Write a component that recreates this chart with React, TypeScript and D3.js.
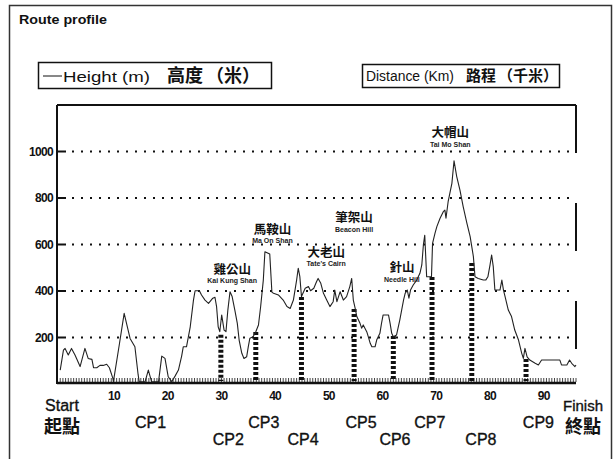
import React from "react";
import * as d3 from "d3";

const distanceKm = [
  0, 0.6, 0.9, 1.5, 2.1, 2.75, 3.7, 4.6, 5.2, 5.9, 6.2, 6.8, 7.4, 8.0, 8.65, 9.15, 9.8, 9.9,
  11.0, 11.9, 13.0, 13.9, 14.5, 14.7, 15.8, 16.4, 17.0, 18.3, 18.9, 19.5, 20.1, 20.75, 21.4,
  22.0, 22.6, 22.9, 23.5, 24.2, 24.8, 25.1, 25.9, 26.3, 26.95, 27.6, 28.4, 28.8, 29.1, 29.4,
  29.7, 30.05, 30.5, 30.85, 31.2, 31.6, 32.0, 32.5, 32.96, 33.3, 33.8, 34.2, 34.7, 35.0, 35.3,
  35.9, 36.4, 36.9, 37.3, 37.8, 38.1, 38.5, 39.0, 39.4, 39.7, 40.6, 41.5, 42.2, 42.8, 43.4,
  44.0, 44.3, 44.6, 44.9, 45.6, 46.2, 46.6, 47.2, 47.7, 48.0, 48.5, 49.0, 49.6, 50.2, 50.8,
  51.1, 51.5, 52.1, 52.7, 53.3, 53.9, 54.25, 54.55, 54.9, 55.2, 55.8, 56.1, 56.4, 57.05, 57.35,
  57.7, 58.0, 58.6, 58.9, 59.5, 59.8, 60.1, 61.1, 61.4, 61.7, 62.0, 62.6, 63.2, 63.9, 64.2,
  64.6, 64.9, 65.2, 65.7, 66.35, 66.95, 67.3, 67.6, 67.85, 68.2, 69.1, 69.3, 69.75, 70.1, 70.7,
  71.3, 71.6, 71.8, 72.2, 72.9, 73.3, 73.8, 74.4, 75.0, 75.7, 76.3, 76.6, 76.9, 77.2, 77.8,
  78.75, 79.2, 79.6, 80.0, 80.3, 80.6, 80.9, 81.85, 82.2, 82.5, 82.8, 83.4, 84.0, 84.6, 85.3,
  85.9, 86.2, 86.5, 86.9, 87.4, 88.4, 89.0, 89.6, 93.0, 93.3, 94.3, 94.8, 95.2, 95.8, 96.0,
];
const heightM = [
  60, 146, 153, 125, 153, 125, 75, 153, 110, 106, 70, 70, 80, 80, 85, 70, 24, 10,
  170, 304, 196, 160, 40, 10, 10, 60, 10, 10, 120, 110, 31, 10, 35,
  60, 120, 160, 160, 246, 361, 401, 401, 383, 361, 347, 369, 373, 333, 246,
  225, 297, 232, 225, 318, 397, 376, 318, 261, 189, 132, 110, 117, 160, 197,
  203, 225, 254, 332, 447, 569, 565, 559, 395, 390, 383, 361, 333, 325, 361,
  447, 498, 462, 376, 412, 419, 401, 412, 440, 454, 433, 390, 361, 333, 354,
  404, 354, 397, 361, 376, 419, 454, 361, 325, 290, 261, 240, 254, 225, 203,
  175, 160, 160, 189, 218, 261, 297, 297, 261, 218, 203, 211, 275, 361, 390,
  404, 369, 404, 426, 447, 476, 512, 600, 640, 461, 461, 605, 648, 677, 713,
  741, 748, 713, 784, 863, 960, 892, 834, 763, 691, 634, 591, 548, 461, 454,
  447, 447, 461, 512, 555, 505, 404, 404, 447, 404, 376, 318, 290, 232, 189,
  132, 110, 153, 117, 103, 89, 82, 103, 103, 82, 82, 103, 89, 75, 82,
];

const checkpointKm = [29.9, 36.4, 44.9, 54.7, 62.0, 69.2, 76.6, 86.7];
const checkpointHeight = [212, 224, 374, 323, 206, 460, 520, 108];

const cpLabels = ["CP1", "CP2", "CP3", "CP4", "CP5", "CP6", "CP7", "CP8", "CP9"];
const cpLabelKm = [16.8, 31.3, 37.9, 45.2, 56.0, 62.3, 68.8, 78.3, 89.0];
const cpLabelRow = [0, 1, 0, 1, 0, 1, 0, 1, 0];

const yTicks = [200, 400, 600, 800, 1000];
const xTicks = [10, 20, 30, 40, 50, 60, 70, 80, 90];

const peakZh = ["雞公山", "馬鞍山", "大老山", "筆架山", "針山", "大帽山"];
const peakEn = ["Kai Kung Shan", "Ma On Shan", "Tate's Cairn", "Beacon Hill", "Needle Hill", "Tai Mo Shan"];
const peakKm = [32.0, 39.5, 49.5, 54.7, 63.6, 72.6];
const peakH = [469, 641, 542, 692, 477, 1058];

const W = 615;
const H = 459;
const PL = 57;
const PR = 576;
const PT = 105;
const PB = 384;

const SANS = "'Liberation Sans', Arial, Helvetica, sans-serif";
const CJK = "'Noto Sans CJK TC', 'Noto Sans CJK SC', sans-serif";

export default function App() {
  const x = d3.scaleLinear().domain([-0.6, 96]).range([PL, PR]);
  const y = d3.scaleLinear().domain([0, 1200]).range([PB, PT]);
  const pts: [number, number][] = distanceKm.map((d, i) => [d, heightM[i]]);
  const line = d3
    .line<[number, number]>()
    .x((d) => x(d[0]))
    .y((d) => y(d[1]));
  const minor = d3.range(0, 96.01, 0.5);

  return (
    <svg
      width={W}
      height={H}
      style={{ position: "absolute", left: 0, top: 0, background: "#fff" }}
      fontFamily={SANS}
    >
      <rect x={0} y={0} width={W} height={H} fill="#fff" />
      <rect x={9.5} y={5.5} width={602} height={470} fill="none" stroke="#333" strokeWidth={1.5} />
      <text x={19} y={24} fontSize={12.5} fontWeight="bold" fill="#111" textLength={88} lengthAdjust="spacingAndGlyphs">
        Route profile
      </text>

      {/* legends */}
      <rect x={38.5} y={62.5} width={233} height={26} fill="none" stroke="#111" strokeWidth={1.5} />
      <line x1={43} x2={62} y1={76} y2={76} stroke="#111" strokeWidth={1} />
      <text x={63} y={82} fontSize={15} fill="#111" textLength={87} lengthAdjust="spacingAndGlyphs">
        Height (m)
      </text>
      <text x={167} y={82} fontSize={18} fontWeight="bold" fontFamily={CJK} fill="#111">
        高度
      </text>
      <text x={206} y={82} fontSize={18} fontWeight="bold" fontFamily={CJK} fill="#111">
        （米）
      </text>

      <rect x={362.5} y={64.5} width={197} height={23} fill="none" stroke="#111" strokeWidth={1.5} />
      <text x={366} y={81} fontSize={14} fill="#111" textLength={88} lengthAdjust="spacingAndGlyphs">
        Distance (Km)
      </text>
      <text x={466} y={81} fontSize={15} fontWeight="bold" fontFamily={CJK} fill="#111">
        路程
      </text>
      <text x={498} y={81} fontSize={15} fontWeight="bold" fontFamily={CJK} fill="#111">
        （千米）
      </text>

      {/* plot frame */}
      <line x1={PL} x2={PL} y1={PT} y2={PB} stroke="#111" strokeWidth={2} />
      <line x1={PL} x2={PR} y1={PT} y2={PT} stroke="#111" strokeWidth={2} />
      <line x1={PR} x2={PR} y1={PT} y2={PB} stroke="#111" strokeWidth={2} strokeDasharray="48,50" />

      {/* grid */}
      {yTicks.map((t) => (
        <g key={t}>
          <line x1={72} x2={575} y1={y(t)} y2={y(t)} stroke="#111" strokeWidth={2} strokeDasharray="2,7" />
          <line x1={PL} x2={66} y1={y(t)} y2={y(t)} stroke="#111" strokeWidth={2} />
          <text x={53} y={y(t) + 4.2} fontSize={12} fontWeight="bold" textAnchor="end" fill="#111" letterSpacing={-0.7}>
            {t}
          </text>
        </g>
      ))}

      {/* minor ticks along the axis */}
      {minor.map((m) => (
        <line key={m} x1={x(m)} x2={x(m)} y1={378} y2={382} stroke="#444" strokeWidth={1} />
      ))}
      <line x1={PL} x2={PR} y1={383} y2={383} stroke="#111" strokeWidth={2.5} />

      {/* checkpoint bars */}
      {checkpointKm.map((c, i) => (
        <line
          key={c}
          x1={x(c)}
          x2={x(c)}
          y1={y(checkpointHeight[i])}
          y2={381}
          stroke="#111"
          strokeWidth={5}
          strokeDasharray="3,2"
        />
      ))}

      {/* profile */}
      <path d={line(pts) || ""} fill="none" stroke="#222" strokeWidth={1.1} strokeLinejoin="round" />

      {/* peak labels */}
      {peakZh.map((p, i) => (
        <g key={p}>
          <text x={x(peakKm[i])} y={y(peakH[i]) - 1} fontSize={12.5} fontWeight="bold" fontFamily={CJK} textAnchor="middle" fill="#111">
            {p}
          </text>
          <text x={x(peakKm[i])} y={y(peakH[i]) + 8.5} fontSize={7} fontWeight="bold" textAnchor="middle" fill="#222">
            {peakEn[i]}
          </text>
        </g>
      ))}

      {/* x tick labels */}
      {xTicks.map((t) => (
        <text key={t} x={x(t)} y={399.5} fontSize={12} fontWeight="bold" textAnchor="middle" fill="#111" letterSpacing={-0.7}>
          {t}
        </text>
      ))}

      {/* checkpoint labels */}
      {cpLabels.map((c, i) => (
        <text key={c} x={x(cpLabelKm[i])} y={cpLabelRow[i] ? 445 : 428} fontSize={16} textAnchor="middle" fill="#111" stroke="#111" strokeWidth={0.35}>
          {c}
        </text>
      ))}

      <text x={62} y={411} fontSize={16} textAnchor="middle" fill="#111" stroke="#111" strokeWidth={0.35}>Start</text>
      <text x={62} y={433} fontSize={18} fontWeight="bold" fontFamily={CJK} textAnchor="middle" fill="#111">起點</text>
      <text x={583} y={411} fontSize={15} textAnchor="middle" fill="#111" stroke="#111" strokeWidth={0.35}>Finish</text>
      <text x={583} y={433} fontSize={18} fontWeight="bold" fontFamily={CJK} textAnchor="middle" fill="#111">終點</text>
    </svg>
  );
}
